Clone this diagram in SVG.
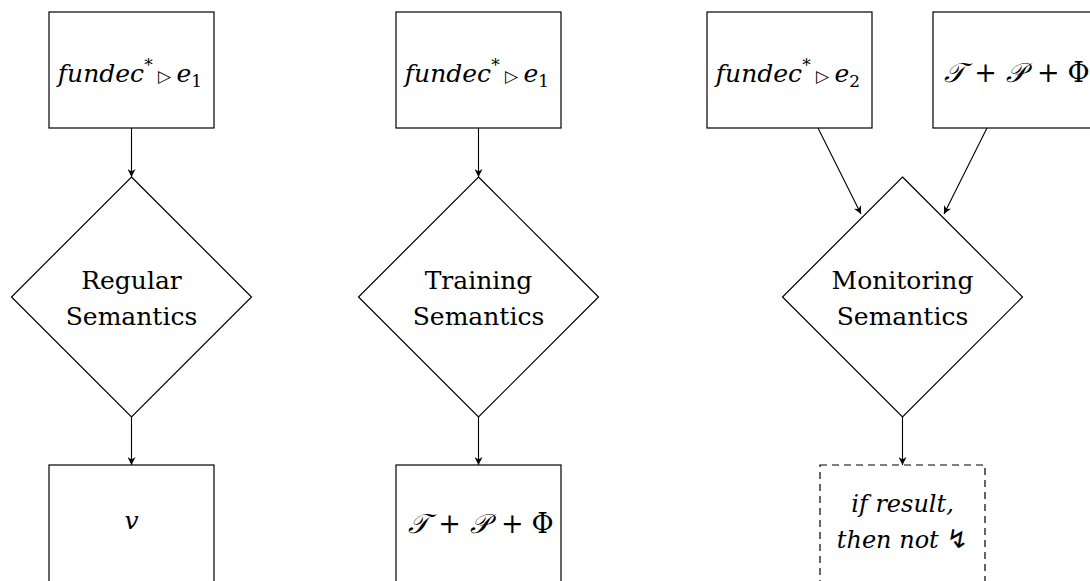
<svg xmlns="http://www.w3.org/2000/svg" width="1090" height="581" viewBox="0 0 1090 581">
<style>
.box{fill:#fff;stroke:#000;stroke-width:1.2}
.dash{fill:#fff;stroke:#000;stroke-width:1.2;stroke-dasharray:7 5}
.dia{fill:#fff;stroke:#000;stroke-width:1.2}
.rm{font-family:'DejaVu Serif',serif;font-size:25px;fill:#000}
.it{font-family:'DejaVu Serif',serif;font-style:italic;font-size:25px;fill:#000}
.big{font-size:27px}
.sm{font-size:24px}
.sub{font-style:normal;font-size:17px}
.up{font-style:normal}
.sym{font-family:'DejaVu Sans',sans-serif;font-style:normal;font-size:17px}
.bolt{font-family:'DejaVu Sans',sans-serif;font-style:normal;font-size:26px}
.edge{stroke:#000;stroke-width:1.1;fill:none;marker-end:url(#arr)}
</style>
<defs>
<marker id="arr" viewBox="0 0 10 10" refX="10" refY="5" markerWidth="8" markerHeight="8" markerUnits="userSpaceOnUse" orient="auto">
<path d="M0,0 L10,5 L0,10 L3,5 Z" fill="#000"/>
</marker>
</defs>
<rect width="1090" height="581" fill="#fff"/>

<g id="connectors">
<line class="edge" x1="131.5" y1="128" x2="131.5" y2="177"/>
<line class="edge" x1="131.5" y1="417" x2="131.5" y2="465"/>
<line class="edge" x1="478.5" y1="128" x2="478.5" y2="177"/>
<line class="edge" x1="478.5" y1="417" x2="478.5" y2="465"/>
<line class="edge" x1="818" y1="128" x2="861" y2="214"/>
<line class="edge" x1="987" y1="128" x2="944" y2="214"/>
<line class="edge" x1="902.5" y1="417" x2="902.5" y2="465"/>
</g>

<g id="n-in1">
<rect class="box" x="49" y="12" width="165" height="116"/>
<text class="it" x="130" y="82" text-anchor="middle">fundec<tspan class="sub" dy="-11">*</tspan><tspan class="sym" dy="11"> ▷ </tspan>e<tspan class="sub" dy="5">1</tspan></text>
</g>
<g id="n-reg">
<polygon class="dia" points="131.5,177 251.5,297 131.5,417 11.5,297"/>
<text class="rm" x="131.5" y="289" text-anchor="middle">Regular</text>
<text class="rm" x="131.5" y="325" text-anchor="middle">Semantics</text>
</g>
<g id="n-out1">
<rect class="box" x="49" y="465" width="165" height="118"/>
<text class="it" x="131.5" y="529" text-anchor="middle">v</text>
</g>

<g id="n-in2">
<rect class="box" x="396" y="12" width="165" height="116"/>
<text class="it" x="477" y="82" text-anchor="middle">fundec<tspan class="sub" dy="-11">*</tspan><tspan class="sym" dy="11"> ▷ </tspan>e<tspan class="sub" dy="5">1</tspan></text>
</g>
<g id="n-train">
<polygon class="dia" points="478.5,177 598.5,297 478.5,417 358.5,297"/>
<text class="rm" x="478.5" y="289" text-anchor="middle">Training</text>
<text class="rm" x="478.5" y="325" text-anchor="middle">Semantics</text>
</g>
<g id="n-out2">
<rect class="box" x="396" y="465" width="165" height="118"/>
<text class="it big" x="481" y="533" text-anchor="middle">𝒯<tspan class="up" dx="9">+</tspan><tspan dx="9">𝒫</tspan><tspan class="up" dx="12">+</tspan><tspan class="up" dx="8">Φ</tspan></text>
</g>

<g id="n-in3">
<rect class="box" x="707" y="12" width="165" height="116"/>
<text class="it" x="788" y="82" text-anchor="middle">fundec<tspan class="sub" dy="-11">*</tspan><tspan class="sym" dy="11"> ▷ </tspan>e<tspan class="sub" dy="5">2</tspan></text>
</g>
<g id="n-tpf">
<rect class="box" x="933" y="12" width="165" height="116"/>
<text class="it big" x="1017" y="82" text-anchor="middle">𝒯<tspan class="up" dx="9">+</tspan><tspan dx="9">𝒫</tspan><tspan class="up" dx="12">+</tspan><tspan class="up" dx="8">Φ</tspan></text>
</g>
<g id="n-mon">
<polygon class="dia" points="902.5,177 1022.5,297 902.5,417 782.5,297"/>
<text class="rm" x="902.5" y="289" text-anchor="middle">Monitoring</text>
<text class="rm" x="902.5" y="325" text-anchor="middle">Semantics</text>
</g>
<g id="n-res">
<rect class="dash" x="820" y="465" width="165" height="118"/>
<text class="it sm" x="902.5" y="512" text-anchor="middle">if result,</text>
<text class="it sm" x="902.5" y="548" text-anchor="middle">then not <tspan class="bolt">↯</tspan></text>
</g>
</svg>
